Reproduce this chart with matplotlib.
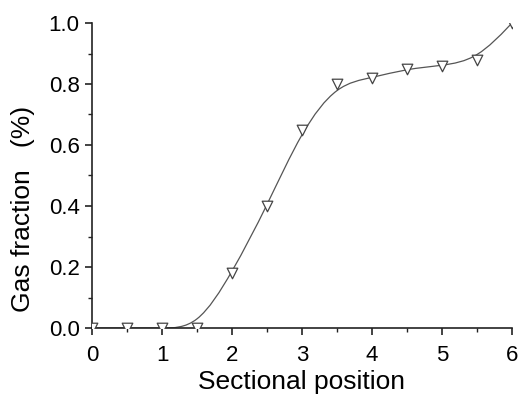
import numpy as np
import matplotlib
matplotlib.use("Agg")
import matplotlib.pyplot as plt
from matplotlib.path import Path
from matplotlib.patches import PathPatch
from matplotlib.ticker import MultipleLocator, FormatStrFormatter

# data
position = [0, 0.5, 1, 1.5, 2, 2.5, 3, 3.5, 4, 4.5, 5, 5.5, 6]
gas_fraction = [0, 0, 0, 0, 0.18, 0.40, 0.65, 0.80, 0.82, 0.85, 0.86, 0.88, 1.0]

plt.rcParams['font.family'] = ['Liberation Sans', 'DejaVu Sans']

fig = plt.figure(figsize=(5.18, 3.94), dpi=100)
ax = fig.add_axes([92/518, 1-328/394, 420/518, 305/394])

# B-spline with the points as control points (like Origin), drawn as bezier path
pts = np.column_stack([position, gas_fraction])
P = np.vstack([pts[:1], pts[:1], pts, pts[-1:], pts[-1:]])
verts = []
codes = []
for i in range(1, len(P) - 2):
    a = (P[i-1] + 4*P[i] + P[i+1]) / 6
    b = (2*P[i] + P[i+1]) / 3
    c = (P[i] + 2*P[i+1]) / 3
    d = (P[i] + 4*P[i+1] + P[i+2]) / 6
    if not verts:
        verts.append(a)
        codes.append(Path.MOVETO)
    verts += [b, c, d]
    codes += [Path.CURVE4] * 3
ax.add_patch(PathPatch(Path(verts, codes), fill=False, edgecolor='#555555', lw=0.9))

sc = ax.scatter(position, gas_fraction, marker='v', s=58, facecolor='white',
                edgecolor='#444444', linewidth=0.9, zorder=3)
sc.set_clip_path(ax.patch)

ax.set_xlim(0, 6)
ax.set_ylim(0, 1.0)
ax.xaxis.set_major_locator(MultipleLocator(1))
ax.xaxis.set_minor_locator(MultipleLocator(0.5))
ax.yaxis.set_major_locator(MultipleLocator(0.2))
ax.yaxis.set_minor_locator(MultipleLocator(0.1))
ax.yaxis.set_major_formatter(FormatStrFormatter('%.1f'))
ax.spines['top'].set_visible(False)
ax.spines['right'].set_visible(False)
for s in ['left', 'bottom']:
    ax.spines[s].set_linewidth(1.2)
    ax.spines[s].set_color('#222222')
ax.tick_params(which='major', length=5, width=1.2, labelsize=16, color='#222222')
ax.tick_params(axis='x', which='major', pad=7)
ax.tick_params(axis='y', which='major', pad=4)
ax.tick_params(which='minor', length=3, width=1.0, color='#222222')
ax.set_xlabel('Sectional position', fontsize=19, labelpad=3)
ax.set_ylabel('Gas fraction   (%)', fontsize=19)
ax.yaxis.set_label_coords(-0.135, 0.39)

fig.savefig('out.png', dpi=100)
